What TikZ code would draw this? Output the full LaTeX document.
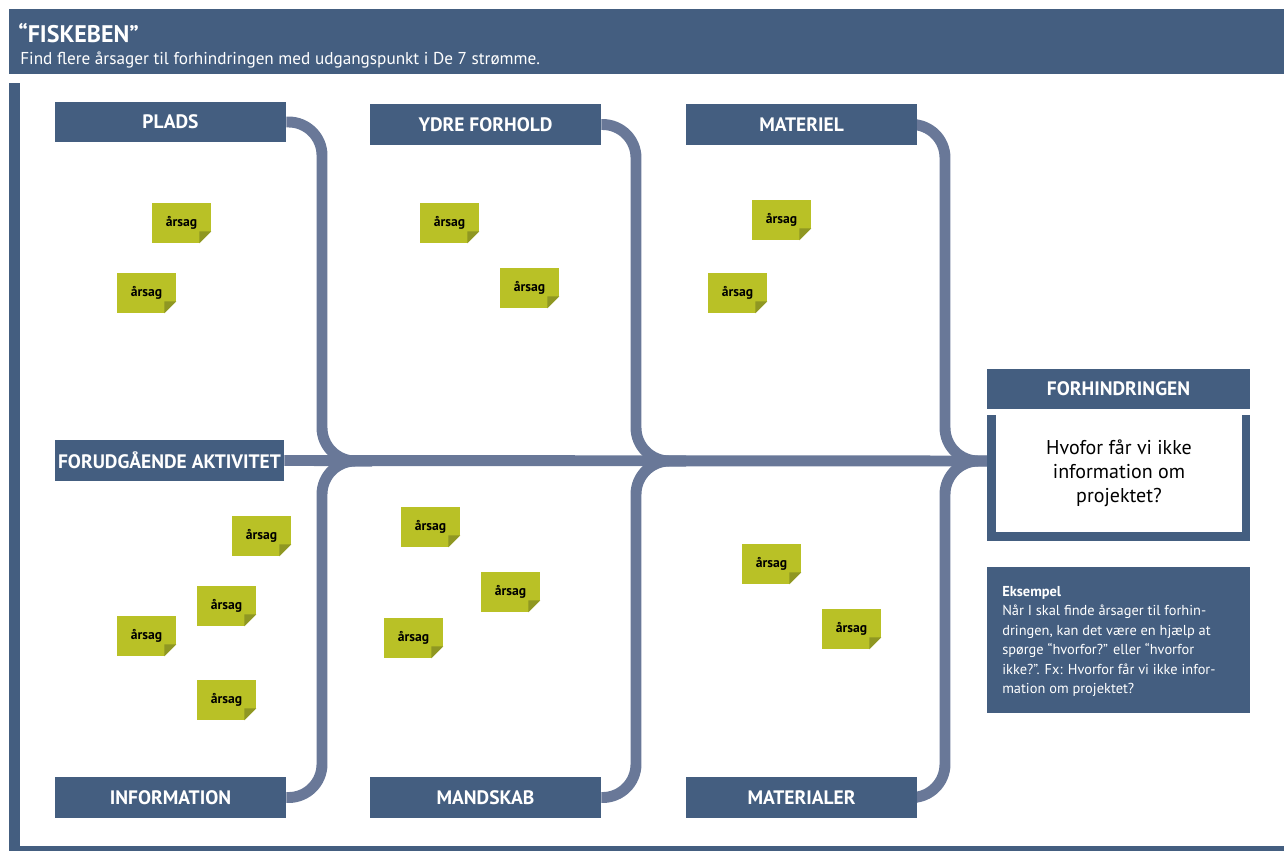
\documentclass[tikz,border=0pt]{standalone}
\usepackage{fontspec}
\setmainfont{PT Sans}
\usetikzlibrary{backgrounds}
\definecolor{hdr}{HTML}{445E80}
\definecolor{bone}{HTML}{697898}
\definecolor{notec}{HTML}{B9C126}
\definecolor{foldc}{HTML}{8F9722}
\begin{document}
\begin{tikzpicture}[x=0.75pt,y=-0.75pt,
  sz/.style 2 args={minimum width=#1*0.75pt,minimum height=#2*0.75pt},
  lbl/.style={fill=hdr,text=white,inner sep=0pt,font=\bfseries\fontsize{14.6}{17}\selectfont},
  sticky/.style={fill=notec,inner sep=0pt,minimum width=44.25pt,minimum height=30pt,font=\bfseries\fontsize{10.2}{12}\selectfont},
  bonel/.style={draw=bone,line width=8.2pt,rounded corners=25pt}]
\useasboundingbox (0,0) rectangle (1284,851);
% frame
\node[fill=hdr,inner sep=0pt,anchor=north west,sz={1275}{65}] (header) at (9,9) {};
\node[anchor=base west,inner sep=0pt,text=white,font=\bfseries\fontsize{18}{21}\selectfont] (title) at (18,42) {“FISKEBEN”};
\node[anchor=base west,inner sep=0pt,text=white,font=\fontsize{12.9}{15}\selectfont] (sub) at (20,64) {Find flere årsager til forhindringen med udgangspunkt i De 7 strømme.};
\fill[hdr] (9,83) rectangle (20,851);
\fill[hdr] (9,846) rectangle (1284,851);
% category boxes
\node[lbl,sz={231}{40}] (plads) at (170.5,122) {PLADS};
\node[lbl,sz={231}{41}] (ydre) at (485.5,124.5) {YDRE FORHOLD};
\node[lbl,sz={231}{41}] (materiel) at (801.5,124.5) {MATERIEL};
\node[lbl,sz={229}{41}] (forud) at (169.5,460.5) {FORUDGÅENDE AKTIVITET};
\node[lbl,sz={231}{41}] (info) at (170.5,797.5) {INFORMATION};
\node[lbl,sz={231}{41}] (mands) at (485.5,797.5) {MANDSKAB};
\node[lbl,sz={231}{41}] (materialer) at (801.5,797.5) {MATERIALER};
% problem box
\node[lbl,sz={263}{40}] (forh) at (1118.5,389) {FORHINDRINGEN};
\node[fill=hdr,inner sep=0pt,sz={263}{126}] (qbox) at (1118.5,478) {};
\node[fill=white,inner sep=0pt,sz={246}{117},align=center,font=\fontsize{15}{18}\selectfont] (q) at (1119,473.5) {Hvofor får vi ikke\\information om\\projektet?};
% example box
\node[fill=hdr,inner sep=0pt,sz={263}{146}] (eks) at (1118.5,640) {};
\node[anchor=north west,inner sep=0pt,text=white,align=left,font=\fontsize{10.8}{14.6}\selectfont] (ekst) at (1002,586)
 {\textbf{Eksempel}\\Når I skal finde årsager til forhin-\\dringen, kan det være en hjælp at\\spørge “hvorfor?” eller “hvorfor\\ikke?”. Fx: Hvorfor får vi ikke infor-\\mation om projektet?};
% junctions
\coordinate (j1) at (372,461);
\coordinate (j2) at (686,461);
\coordinate (j3) at (995,461);
% bones
\begin{scope}[on background layer]
\draw[draw=bone,line width=8.2pt] (forud.east) -- (j3);
\draw[bonel] (plads.east) -- (322,122) -- (322,461) -- (j1);
\draw[bonel] (info.east) -- (322,797.5) -- (322,461) -- (j1);
\draw[bonel] (ydre.east) -- (636,124.5) -- (636,461) -- (j2);
\draw[bonel] (mands.east) -- (636,797.5) -- (636,461) -- (j2);
\draw[bonel] (materiel.east) -- (945,124.5) -- (945,461) -- (j3);
\draw[bonel] (materialer.east) -- (945,797.5) -- (945,461) -- (j3);
\end{scope}
% sticky notes
\foreach \n/\x/\y in {s1/181.5/223, s2/146.5/293, s3/449.5/223, s4/529.5/288, s5/781.5/220,
  s6/737.5/293, s7/261.5/536, s8/226.5/606, s9/146.5/636, s10/226.5/700, s11/430.5/527,
  s12/510.5/592, s13/413.5/638, s14/771.5/564, s15/851.5/629}{
  \node[sticky] (\n) at (\x,\y) {\raisebox{2pt}{årsag}};
  \fill[white] (\n.south east) ++(0,-12) -- ++(0,12) -- ++(-12,0) -- cycle;
  \fill[foldc] (\n.south east) ++(0,-12) -- ++(-12,12) -- ++(0,-12) -- cycle;
}
\end{tikzpicture}
\end{document}
